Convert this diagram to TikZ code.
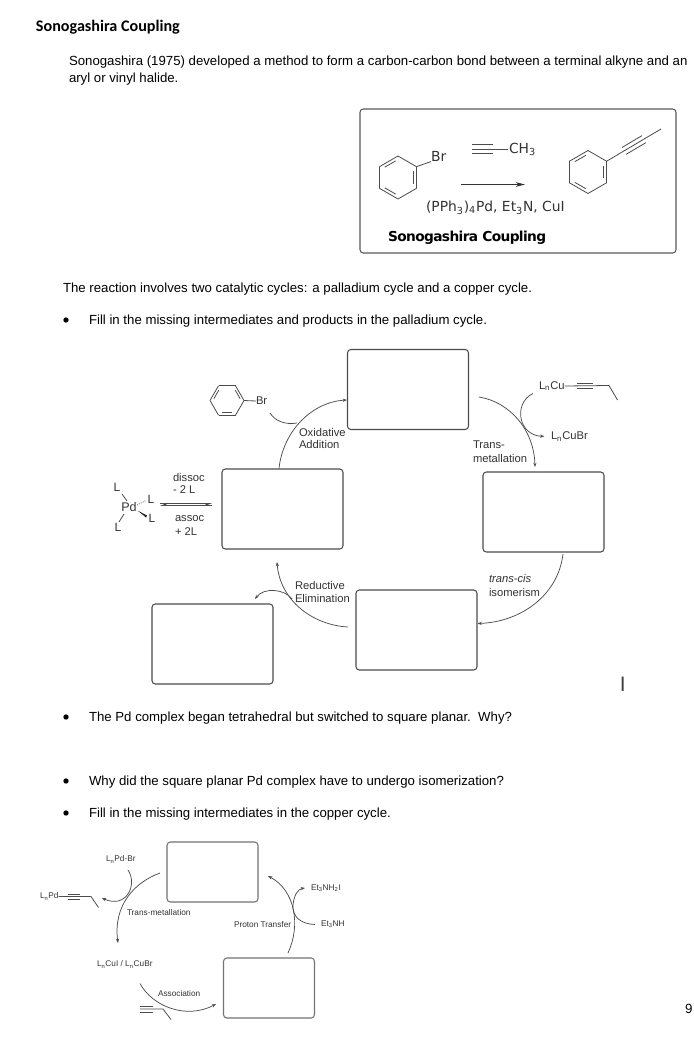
\documentclass[tikz,border=0pt]{standalone}
\usepackage{fontspec}
\setmainfont{Liberation Sans}
\newfontfamily\djv{DejaVu Sans}
\newfontfamily\djvtight[LetterSpace=-4.5]{DejaVu Sans}
\newfontfamily\crl{Carlito}
\usetikzlibrary{arrows.meta,calc}
\newcommand{\sbs}[1]{\textsubscript{#1}}
\tikzset{
  px/.style={x=0.75pt,y=-0.75pt},
  anyt/.style={inner sep=0pt,outer sep=0pt,anchor=west,align=left},
  body/.style={anyt,font=\fontsize{9.91}{12}\selectfont,text=black},
  lab/.style={anyt,font=\fontsize{8.4}{10}\selectfont,text=black!80},
  small/.style={anyt,font=\fontsize{6.2}{8}\selectfont,text=black!80},
  rx/.style={anyt,font=\djv\fontsize{10.4}{12}\selectfont,text=black!80},
  blank/.style={draw=black!70,line width=0.8pt,rounded corners=2.5pt,minimum width=90.75pt,minimum height=60pt,inner sep=0pt,fill=white},
  cublank/.style={blank,draw=black!55,minimum width=68.25pt,minimum height=45pt},
  bond/.style={draw=black!70,line width=0.6pt},
  arc/.style={draw=black!70,line width=0.55pt,-{Stealth[length=3.2pt,width=2.4pt]}},
  plainarc/.style={draw=black!70,line width=0.55pt},
  bul/.style={circle,fill=black,inner sep=0pt,minimum size=4pt},
}
% hexagon: cx, cy, r, start angle
\newcommand{\ring}[4]{%
  \foreach \k in {0,...,5}{
    \draw[bond] ($(#1,#2)+({#4+60*\k}:#3 and #3)$) -- ($(#1,#2)+({#4+60*(\k+1)}:#3 and #3)$);
  }
  \foreach \k in {0,2,4}{
    \draw[bond] ($(#1,#2)+({#4+8+60*\k}:{0.78*#3} and {0.78*#3})$) -- ($(#1,#2)+({#4-8+60*(\k+1)}:{0.78*#3} and {0.78*#3})$);
  }
}
\begin{document}
\begin{tikzpicture}[px]
\useasboundingbox (0,0) rectangle (693,1050);
\clip (0,0) rectangle (693,1050);
\fill[white] (0,0) rectangle (693,1050);

% ---- page text
\node[anyt,font=\crl\bfseries\fontsize{12.1}{14}\selectfont] (title) at (36,27) {Sonogashira Coupling};
\node[body] (p1a) at (69,62) {Sonogashira (1975) developed a method to form a carbon-carbon bond between a terminal alkyne and an};
\node[body] (p1b) at (69,79.5) {aryl or vinyl halide.};
\node[body] (p2) at (63,289.5) {The reaction involves two catalytic cycles: a palladium cycle and a copper cycle.};
\node[bul] (b1) at (66,320) {};
\node[body] (q1) at (89,321.5) {Fill in the missing intermediates and products in the palladium cycle.};
\node[bul] (b2) at (66,717) {};
\node[body] (q2) at (89,718.5) {The Pd complex began tetrahedral but switched to square planar.\ \ Why?};
\node[bul] (b3) at (66,781) {};
\node[body] (q3) at (89,782.5) {Why did the square planar Pd complex have to undergo isomerization?};
\node[bul] (b4) at (66,813) {};
\node[body] (q4) at (89,814.5) {Fill in the missing intermediates in the copper cycle.};
\node[anyt,anchor=center,font=\fontsize{15.7}{17}\selectfont,text=black!75] (cursor) at (622.7,684.5) {I};
\node[anyt,font=\fontsize{10}{12}\selectfont] (pagenum) at (685,1009) {9};

% ---- reaction box
\node[blank,minimum width=237pt,minimum height=108pt,draw=black!65] (rbox) at (518,181) {};
\ring{398}{177.5}{21.5}{90}
\coordinate (brA) at (417,166.5);
\node[rx] (rbr) at (431,156.5) {Br};
\draw[bond] (brA) -- (rbr.south west);
\draw[bond] (472,144.5) -- (493,144.5) (472,149) -- (508,149) (472,153.5) -- (493,153.5);
\node[rx] (rch) at (509,149.5) {CH\sbs{3}};
\coordinate (ra1) at (461,184.5);
\coordinate (ra2) at (525,184.5);
\draw[bond,-{Stealth[length=7pt,width=3.5pt]},draw=black!80] (ra1) -- (ra2);
\node[rx] (rcond) at (426,207.5) {(PPh\sbs{3})\sbs{4}Pd, Et\sbs{3}N, CuI};
\node[anyt,font=\djvtight\bfseries\fontsize{10.3}{12}\selectfont,text=black] (rname) at (388,237.5) {Sonogashira Coupling};
\ring{588}{172}{21.5}{90}
\draw[bond] (607,161) -- (661,129);
\draw[bond] (622,147.5) -- (642,135.6) (626,154.4) -- (646,142.6);

% ---- palladium cycle boxes
\node[blank] (pa) at (408,389.5) {};
\node[blank] (pb) at (543.5,512) {};
\node[blank] (pc) at (416.5,630) {};
\node[blank] (pd) at (212.5,644) {};
\node[blank] (pe) at (282.5,509) {};

% phenyl bromide
\ring{227}{400.5}{17}{60}
\node[lab] (pbr) at (256,401) {Br};
\draw[bond] (244,400.5) -- (pbr.west);

% oxidative addition
\draw[arc] (pe.north -| 279,469) .. controls (283,431) and (312,402) .. (pa.west |- 0,400);
\coordinate (oxS) at (270,413);
\coordinate (oxE) at (297,423);
\draw[plainarc] (oxS) .. controls (275,421) and (285,425) .. (oxE);
\node[lab] (ox1) at (299,432) {Oxidative};
\node[lab] (ox2) at (299,444.5) {Addition};

% transmetallation
\coordinate (tmS) at (479,397);
\coordinate (tmE) at (535,467);
\draw[arc] (tmS) .. controls (510,402) and (534,430) .. (tmE);
\node[lab] (lncu) at (539,386) {L\sbs{n}Cu};
\draw[bond] (lncu.east) -- (609,385.5) -- (617.5,400);
\draw[bond] (577,383) -- (593,383) (577,388.5) -- (593,388.5);
\node[lab] (lncubr) at (551,436.5) {L\sbs{n}CuBr};
\coordinate (cuS) at (533,393.5);
\draw[arc,shorten >=5pt] (cuS) .. controls (523,398) and (518,410) .. (522,422) .. controls (525,430) and (532,436) .. (lncubr.west);
\node[lab] (tm1) at (473,445) {Trans-};
\node[lab] (tm2) at (473,458) {metallation};

% trans-cis
\coordinate (tcS) at (563,554);
\draw[arc] (tcS) .. controls (558,596) and (520,622) .. (pc.east |- 0,623.5);
\node[lab] (tc1) at (489,578.5) {\itshape trans-cis};
\node[lab] (tc2) at (489,592) {isomerism};

% reductive elimination
\coordinate (reS) at (348,627);
\coordinate (reE) at (277,562);
\draw[arc] (reS) .. controls (312,625) and (280,600) .. (reE);
\coordinate (re2S) at (292,599);
\coordinate (re2E) at (255,599);
\draw[arc] (re2S) .. controls (285,589) and (264,587) .. (re2E);
\node[lab] (re1) at (295,585.5) {Reductive};
\node[lab] (re2) at (295,598.5) {Elimination};

% Pd complex
\node[lab,anchor=center,font=\fontsize{9.4}{10}\selectfont] (pdn) at (129,507) {Pd};
\node[lab,anchor=center,font=\fontsize{9}{10}\selectfont] (l1) at (117,487) {L};
\node[lab,anchor=center,font=\fontsize{9}{10}\selectfont] (l2) at (151,499) {L};
\node[lab,anchor=center,font=\fontsize{9}{10}\selectfont] (l3) at (152,518) {L};
\node[lab,anchor=center,font=\fontsize{9}{10}\selectfont] (l4) at (118,527.5) {L};
\draw[bond] (122,494) -- (127,501);
\draw[bond] (124,514) -- (119,522);
\draw[bond,densely dotted] (137,505) -- (146,500.5);
\fill[black!85] (137.5,510.5) -- (147,515.5) -- (146,517.5) -- cycle;
\coordinate (eqA) at (160,503.5);
\coordinate (eqB) at (212,503.5);
\coordinate (eqC) at (212,505.5);
\coordinate (eqD) at (160,505.5);
\draw[bond,-{Stealth[harpoon,swap,length=5pt,width=4pt]}] (eqA) -- (eqB);
\draw[bond,-{Stealth[harpoon,swap,length=5pt,width=4pt]}] (eqC) -- (eqD);
\node[lab] (d1) at (173,477) {dissoc};
\node[lab] (d2) at (173,490) {- 2 L};
\node[lab] (a1) at (175,518.5) {assoc};
\node[lab] (a2) at (175,532) {+ 2L};

% ---- copper cycle
\node[cublank] (ca) at (212.5,872) {};
\node[cublank] (cb) at (269,988) {};
\node[small] (cpb) at (106,859.5) {L\sbs{n}Pd-Br};
\node[small] (cpd) at (40,896.5) {L\sbs{n}Pd};
\draw[bond] (cpd.east) -- (91,896.5) -- (98.5,907.5);
\draw[bond] (68,894) -- (80,894) (68,899) -- (80,899);
\coordinate (c1S) at (128,870);
\coordinate (c1E) at (102,898);
\draw[arc] (c1S) .. controls (138,885) and (126,909) .. (c1E);
\coordinate (c2S) at (160,873);
\coordinate (c2E) at (118,943);
\draw[arc] (c2S) .. controls (135,882) and (113,905) .. (c2E);
\node[small] (ctm) at (127,912.5) {Trans-metallation};
\node[small] (ccu) at (97,964.5) {L\sbs{n}CuI / L\sbs{n}CuBr};
\coordinate (c3S) at (140,983.5);
\coordinate (c3E) at (216,1004);
\draw[arc] (c3S) .. controls (152,1006) and (186,1020) .. (c3E);
\node[small] (cas) at (158,994) {Association};
\draw[bond] (140,1009) -- (163,1009) -- (171,1019.5);
\draw[bond] (140,1006) -- (153,1006) (140,1012) -- (153,1012);
\node[small] (cpt) at (234,924.5) {Proton Transfer};
\coordinate (c4S) at (288,953);
\coordinate (c4E) at (268,876);
\draw[arc] (c4S) .. controls (301,925) and (295,890) .. (c4E);
\node[small] (cet2) at (311,888.5) {Et\sbs{3}NH\sbs{2}I};
\node[small] (cet) at (321,924.5) {Et\sbs{3}NH};
\draw[arc] (cet.west) ++(-6,0) .. controls (300,924) and (292,916) .. (293,905) .. controls (294,895) and (298,889) .. (305,888);
\end{tikzpicture}
\end{document}
